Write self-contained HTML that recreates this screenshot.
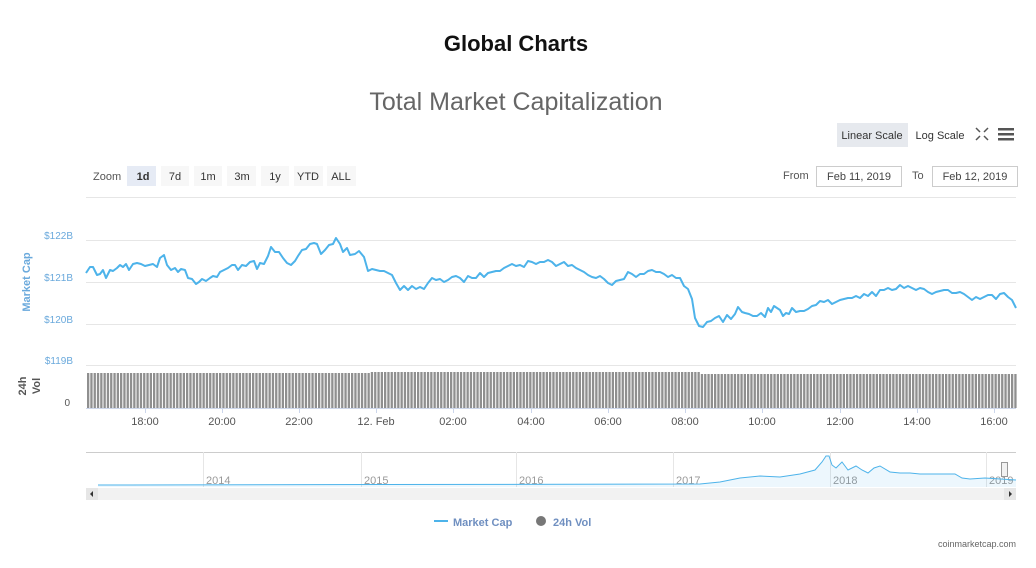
<!DOCTYPE html>
<html><head><meta charset="utf-8"><style>
body{margin:0;width:1036px;height:563px;background:#fff;font-family:"Liberation Sans",sans-serif;overflow:hidden}
</style></head><body>
<svg width="1036" height="563" xmlns="http://www.w3.org/2000/svg" font-family="Liberation Sans, sans-serif">
<text x="516" y="51" text-anchor="middle" font-size="22" font-weight="bold" fill="#111">Global Charts</text>
<text x="516" y="110" text-anchor="middle" font-size="25" fill="#666">Total Market Capitalization</text>
<rect x="837" y="123" width="71" height="24" fill="#e6e9ee"/>
<text x="872" y="139" text-anchor="middle" font-size="11" fill="#333">Linear Scale</text>
<text x="940" y="139" text-anchor="middle" font-size="11" fill="#333">Log Scale</text>
<g stroke="#555" stroke-width="1.5" fill="none"><path d="M976 128l4 4M988 128l-4 4M976 140l4-4M988 140l-4-4"/></g>
<g fill="#555"><rect x="998" y="128" width="16" height="2.5"/><rect x="998" y="133" width="16" height="2.5"/><rect x="998" y="138" width="16" height="2.5"/></g>
<text x="93" y="180" font-size="11" fill="#555">Zoom</text>
<rect x="127" y="166" width="29" height="20" fill="#e6ebf5"/>
<g fill="#f7f7f7"><rect x="161" y="166" width="28" height="20"/><rect x="194" y="166" width="28" height="20"/><rect x="227" y="166" width="29" height="20"/><rect x="261" y="166" width="28" height="20"/><rect x="294" y="166" width="29" height="20"/><rect x="327" y="166" width="29" height="20"/></g>
<g font-size="11" fill="#333" text-anchor="middle"><text x="143" y="180" font-weight="bold">1d</text><text x="175" y="180">7d</text><text x="208" y="180">1m</text><text x="242" y="180">3m</text><text x="275" y="180">1y</text><text x="308" y="180">YTD</text><text x="341" y="180">ALL</text></g>
<text x="783" y="179" font-size="11" fill="#555">From</text>
<rect x="816.5" y="166.5" width="85" height="20" fill="#fff" stroke="#ccc"/>
<text x="859" y="180" text-anchor="middle" font-size="11" fill="#444">Feb 11, 2019</text>
<text x="912" y="179" font-size="11" fill="#555">To</text>
<rect x="932.5" y="166.5" width="85" height="20" fill="#fff" stroke="#ccc"/>
<text x="975" y="180" text-anchor="middle" font-size="11" fill="#444">Feb 12, 2019</text>
<g stroke="#e6e6e6"><line x1="86" y1="197.5" x2="1016" y2="197.5"/><line x1="86" y1="240.5" x2="1016" y2="240.5"/><line x1="86" y1="282.5" x2="1016" y2="282.5"/><line x1="86" y1="324.5" x2="1016" y2="324.5"/><line x1="86" y1="365.5" x2="1016" y2="365.5"/></g>
<g font-size="10" fill="#6aa9dc" text-anchor="end"><text x="73" y="239">$122B</text><text x="73" y="281">$121B</text><text x="73" y="323">$120B</text><text x="73" y="364">$119B</text></g>
<text transform="translate(30,282) rotate(-90)" text-anchor="middle" font-size="11" font-weight="bold" fill="#6aa9dc">Market Cap</text>
<text transform="translate(26,386) rotate(-90)" text-anchor="middle" font-size="11" font-weight="bold" fill="#555">24h</text>
<text transform="translate(40,386) rotate(-90)" text-anchor="middle" font-size="11" font-weight="bold" fill="#555">Vol</text>
<text x="70" y="406" text-anchor="end" font-size="10" fill="#555">0</text>
<g id="bars" fill="#8f8f8f"></g>
<line x1="86" y1="408.5" x2="1016" y2="408.5" stroke="#ccd6eb"/>
<g stroke="#ccd6eb"><line x1="145.5" y1="408" x2="145.5" y2="413"/><line x1="222.5" y1="408" x2="222.5" y2="413"/><line x1="299.5" y1="408" x2="299.5" y2="413"/><line x1="376.5" y1="408" x2="376.5" y2="413"/><line x1="453.5" y1="408" x2="453.5" y2="413"/><line x1="531.5" y1="408" x2="531.5" y2="413"/><line x1="608.5" y1="408" x2="608.5" y2="413"/><line x1="685.5" y1="408" x2="685.5" y2="413"/><line x1="762.5" y1="408" x2="762.5" y2="413"/><line x1="840.5" y1="408" x2="840.5" y2="413"/><line x1="917.5" y1="408" x2="917.5" y2="413"/><line x1="994.5" y1="408" x2="994.5" y2="413"/></g>
<g font-size="11" fill="#555" text-anchor="middle"><text x="145" y="425">18:00</text><text x="222" y="425">20:00</text><text x="299" y="425">22:00</text><text x="376" y="425">12. Feb</text><text x="453" y="425">02:00</text><text x="531" y="425">04:00</text><text x="608" y="425">06:00</text><text x="685" y="425">08:00</text><text x="762" y="425">10:00</text><text x="840" y="425">12:00</text><text x="917" y="425">14:00</text><text x="994" y="425">16:00</text></g>
<polyline fill="none" stroke="#4db3ea" stroke-width="2" stroke-linejoin="round" points="86,273 90,267 93,267 97,275 100,274 103,270 106,278 110,270 113,271 117,268 120,265 123,267 126,264 129,270 133,264 137,263 141,264 145,266 149,265 153,264 157,267 160,258 164,255 167,265 171,270 175,268 178,272 181,269 185,270 188,278 192,279 196,284 199,282 202,279 206,281 210,278 213,276 217,277 220,272 224,270 228,268 232,265 235,265 238,270 242,265 246,266 250,262 254,261 257,269 260,263 264,264 268,256 271,247 275,252 279,252 283,258 287,263 291,265 295,261 298,256 302,250 306,249 310,244 314,243 317,244 321,254 325,250 329,245 333,244 336,238 340,244 343,252 347,248 350,255 355,254 359,251 364,257 368,271 372,269 376,270 380,271 384,271 388,273 392,275 396,283 400,290 404,286 408,290 412,286 416,289 420,287 424,289 428,283 432,278 436,280 440,279 444,282 448,280 452,277 456,276 460,278 464,282 468,276 472,278 476,278 480,273 484,277 488,273 492,272 496,271 500,271 504,268 508,266 512,264 516,266 520,265 524,267 528,261 532,262 536,264 540,262 544,262 548,260 552,262 556,266 560,264 564,262 568,266 572,265 576,268 580,270 584,272 588,275 592,277 596,278 600,276 604,279 608,283 612,285 616,281 620,280 624,279 628,272 632,274 636,277 640,274 644,274 648,271 652,270 656,272 660,272 664,274 668,277 672,275 676,278 680,278 684,286 688,289 692,299 695,318 699,326 703,327 707,322 711,321 715,318 719,316 723,322 727,315 731,319 735,314 738,307 742,312 745,313 749,314 753,316 757,316 761,313 765,317 768,308 771,312 774,306 777,308 780,310 783,316 786,313 789,314 792,308 796,312 800,311 804,311 808,309 812,306 816,305 820,301 824,302 828,300 832,304 836,302 840,300 844,299 848,298 852,298 856,296 860,298 864,294 868,296 872,292 876,296 880,290 884,290 888,288 892,290 896,289 900,285 904,288 908,286 912,288 916,290 920,288 924,289 928,292 932,294 936,292 940,291 944,290 948,290 952,293 956,293 960,292 964,294 968,297 972,300 976,297 980,299 984,297 988,295 992,295 996,299 1000,294 1004,293 1008,297 1012,300 1016,308"/>
<line x1="86" y1="452.5" x2="1016" y2="452.5" stroke="#ccc"/>
<g stroke="#e6e6e6"><line x1="203.5" y1="452" x2="203.5" y2="487"/><line x1="361.5" y1="452" x2="361.5" y2="487"/><line x1="516.5" y1="452" x2="516.5" y2="487"/><line x1="673.5" y1="452" x2="673.5" y2="487"/><line x1="830.5" y1="452" x2="830.5" y2="487"/><line x1="986.5" y1="452" x2="986.5" y2="487"/></g>
<g font-size="11" fill="#999"><text x="206" y="484">2014</text><text x="364" y="484">2015</text><text x="519" y="484">2016</text><text x="676" y="484">2017</text><text x="833" y="484">2018</text><text x="989" y="484">2019</text></g>
<path d="M98,485 L700,484 L720,482 L740,478 L760,476 L780,477 L800,474 L815,470 L822,462 L826,456 L829,456 L832,465 L836,468 L842,462 L848,470 L856,466 L862,470 L868,473 L874,468 L880,466 L890,472 L900,473 L910,473 L920,474 L940,474 L955,474 L962,478 L970,479 L985,478 L1016,480 L1016,487 L98,487Z" fill="#4db3ea" fill-opacity="0.1" stroke="none"/>
<polyline fill="none" stroke="#4db3ea" stroke-width="1" points="98,485 700,484 720,482 740,478 760,476 780,477 800,474 815,470 822,462 826,456 829,456 832,465 836,468 842,462 848,470 856,466 862,470 868,473 874,468 880,466 890,472 900,473 910,473 920,474 940,474 955,474 962,478 970,479 985,478 1016,480"/>
<rect x="1001.5" y="462.5" width="6" height="14" fill="#f2f2f2" stroke="#999"/>
<rect x="86" y="488" width="930" height="12" fill="#f2f2f2"/>
<rect x="86" y="488" width="12" height="12" fill="#e6e6e6"/><path d="M93 491v6l-3-3z" fill="#333"/>
<rect x="1004" y="488" width="12" height="12" fill="#e6e6e6"/><path d="M1009 491v6l3-3z" fill="#333"/>
<rect x="434" y="520" width="14" height="2" fill="#4db3ea"/>
<text x="453" y="526" font-size="11" font-weight="bold" fill="#6f8fc0">Market Cap</text>
<circle cx="541" cy="521" r="5" fill="#777"/>
<text x="553" y="526" font-size="11" font-weight="bold" fill="#6f8fc0">24h Vol</text>
<text x="1016" y="547" text-anchor="end" font-size="9" fill="#666">coinmarketcap.com</text>
</svg>
<script>
var g=document.getElementById('bars'),s='';
for(var x=87;x<1015;x+=3.3){var t=372+(x>370&&x<700?0:(x>700?2:1));s+='<rect x="'+x.toFixed(1)+'" y="'+t+'" width="2.3" height="'+(408-t)+'"/>';}
g.innerHTML=s;
</script>
</body></html>
